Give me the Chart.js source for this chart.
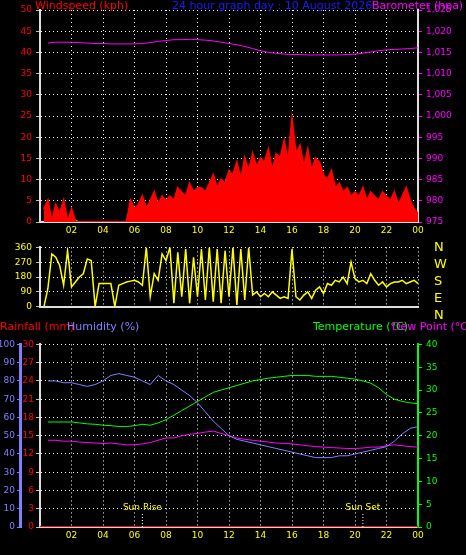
<!DOCTYPE html><html><head><meta charset="utf-8">
<script src="https://cdn.jsdelivr.net/npm/chart.js@4"></script>
<style>
body{margin:0;background:#000;width:466px;height:555px;overflow:hidden;position:relative;font-family:"DejaVu Sans",sans-serif}
.b{position:absolute}
.t{position:absolute;font-size:11px;white-space:nowrap;line-height:12px}
</style></head><body>
<div class="b" style="left:0;top:0"><canvas id="c1" width="466" height="245"></canvas></div>
<div class="b" style="left:0;top:238px"><canvas id="c2" width="466" height="78"></canvas></div>
<div class="b" style="left:0;top:335px"><canvas id="c3" width="466" height="220"></canvas></div>
<div class="t" style="left:35px;top:0;color:#f00">Windspeed (kph)</div>
<div class="t" style="left:172px;top:0;color:#1c1cff">24 hour graph day : 10 August 2026</div>
<div class="t" style="left:372px;top:0;color:#f0f">Barometer (hpa)</div>
<div class="t" style="left:0;top:321px;color:#f00">Rainfall (mm)</div>
<div class="t" style="left:67px;top:321px;color:#8080ff">Humidity (%)</div>
<div class="t" style="left:313px;top:321px;color:#0f0">Temperature (°C)</div>
<div class="t" style="left:392px;top:321px;color:#f0f">Dew Point (°C)</div>
<div class="t" style="left:434px;top:238px;color:#ff0;font-size:13px;line-height:17px">N<br>W<br>S<br>E<br>N</div>
<script>
const hourTicks=[2,4,6,8,10,12,14,16,18,20,22,24];
const gust=[3,5,0,4,2,5,0,3, 0,0,0,0,0,0,0,0, 0,0,0,0,0,0, 5,3, 4,6,3,5,7,4,6,5, 6,5,8,7,6,9,7,8, 8,7,9,11,8,10,9,12, 11,14,10,15,12,16,13,15, 14,17,12,16,15,19,14,24, 16,18,13,17,12,15,14,11, 10,12,8,9,7,8,6,7, 6,8,5,7,6,5,7,6, 5,7,4,6,8,5,3,2];
const avgWind=[1,1,0,1,0,0,0,0,0,0,0,2, 2,3,2,3,3,4,3,4,4,5,5,6, 6,7,7,8,8,9,9,9,8,8,7,7, 6,5,5,4,4,4,3,3,3,2,2,1];
const lullWind=[0,0,0,0,0,0,0,0,0,0,0,0, 0,1,0,1,1,2,1,2,2,3,2,3, 3,4,3,5,4,5,5,5,4,5,4,4, 3,3,2,3,2,2,1,2,1,1,0,0];
const baro=[1017.2,1017.4,1017.4,1017.4,1017.3,1017.2,1017.1,1017.1,1017.0,1017.0,1017.0,1017.0, 1017.1,1017.3,1017.6,1017.8,1018.0,1018.0,1018.1,1018.0,1017.9,1017.7,1017.4,1017.1, 1016.8,1016.4,1015.9,1015.4,1015.0,1014.8,1014.6,1014.5,1014.5,1014.4,1014.4,1014.4, 1014.4,1014.4,1014.5,1014.6,1014.8,1015.1,1015.4,1015.6,1015.7,1015.8,1015.9,1016.1];
const windDir=[0,110,320,300,250,130,340,120, 150,180,200,290,280,0,140,140, 140,140,0,130,140,150,155,160, 150,130,360,60,200,160,320,280, 360,20,330,60,350,20,300,60, 350,40,360,30,350,20,340,60, 360,10,350,40,360,70,90,60, 80,60,90,70,50,60,50,350, 60,40,70,90,50,100,120,80, 140,130,160,150,180,140,270,170, 150,160,140,200,160,130,150,120, 140,150,150,160,140,150,160,140];
const humidity=[80,80,79,79,78,77,78,80,83,84,83,82, 80,78,83,80,78,75,72,68,63,58,54,50, 48,47,46,45,44,43,42,41,40,39,38,38, 38,39,39,40,41,42,43,44,47,51,54,55];
const temperature=[23,23,23,23,22.8,22.6,22.5,22.3,22.2,22,22,22.2, 22.5,22.3,22.8,23.5,24.5,25.5,26.5,27.5,28.5,29.5,30,30.5, 31,31.5,32,32.3,32.6,32.8,33,33.2,33.2,33.2,33,33, 33,32.8,32.6,32.4,32,31.5,30.5,29,28,27.5,27.2,27];
const dewPoint=[19,19,18.8,18.8,18.6,18.5,18.4,18.3,18.4,18.2,18,18, 18.2,18.5,19,19.5,19.5,20,20.3,20.5,20.8,21,20.5,20, 19.5,19.2,19,18.8,18.6,18.4,18.3,18.2,18,17.8,17.6,17.5, 17.4,17.3,17.2,17.2,17.3,17.5,17.5,17.8,18,17.8,17.6,17.5];
const rainfall=[0,0];
const sunEvents=[{t:6.5,label:'Sun Rise'},{t:20.5,label:'Sun Set'}];
const q=a=>a.map((v,i)=>({x:0.25*(i+1),y:v}));
const h=a=>a.map((v,i)=>({x:0.5*(i+1),y:v}));
Chart.defaults.font.family='DejaVu Sans';Chart.defaults.font.size=9;Chart.defaults.animation=false;
const grid={color:'#fff',lineWidth:1,drawTicks:true,tickLength:4,tickColor:'#bbb'};
const border={color:'#ddd',width:2,dash:[1,3]};
function fitW(w){return s=>{s.width=w}}
function xAxis(show,hgt){return {type:'linear',min:0,max:24,afterBuildTicks:s=>{s.ticks=hourTicks.map(v=>({value:v}))},
 ticks:{display:show,color:'#ff0',padding:3,callback:v=>String(v%24).padStart(2,'0')},grid:Object.assign({},grid,{drawTicks:false}),border,afterFit:s=>{s.height=hgt}}}
const L=(data,c,extra)=>Object.assign({data,borderColor:c,backgroundColor:c,borderWidth:1,pointRadius:0,tension:0},extra||{});
const common={responsive:false,maintainAspectRatio:false,plugins:{legend:{display:false},tooltip:{enabled:false}}};
new Chart(c1,{type:'line',data:{datasets:[
 L(h(baro),'#f0f',{yAxisID:'yb'}),
 L(q(gust),'#f00',{fill:'origin',borderWidth:2}),
 L(h(avgWind),'#0f0',{}),
 L(h(lullWind),'#eee',{fill:'origin',backgroundColor:'#dfd'})]},
 options:Object.assign({},common,{layout:{padding:{top:10,right:10}},
 scales:{x:xAxis(true,23),
 y:{min:0,max:50,ticks:{stepSize:5,color:'#f00',padding:4},grid,border,afterFit:fitW(40)},
 yb:{position:'right',min:975,max:1025,ticks:{stepSize:5,color:'#f0f',padding:4},grid:{drawOnChartArea:false,tickLength:4,tickColor:'#f0f'},border:{color:'#ddd',width:2},afterFit:fitW(38)}}})});
new Chart(c2,{type:'line',data:{datasets:[L(q(windDir),'#ff0',{borderWidth:1.5})]},
 options:Object.assign({},common,{layout:{padding:{top:5,right:48,bottom:5}},
 scales:{x:xAxis(false,0),y:{min:0,max:360,ticks:{stepSize:90,color:'#ff0',padding:4},grid,border,afterFit:fitW(40)}}})});
const sunPlugin={id:'sun',afterDatasetsDraw(ch){const x=ch.scales.x,y=ch.scales.yt,ctx=ch.ctx;ctx.save();
 sunEvents.forEach(e=>{const px=x.getPixelForValue(e.t);ctx.strokeStyle='#fff';ctx.setLineDash([1,2]);ctx.beginPath();ctx.moveTo(px,y.getPixelForValue(0));ctx.lineTo(px,y.getPixelForValue(3));ctx.stroke();
 ctx.fillStyle='#ff0';ctx.font='9px DejaVu Sans';ctx.textAlign='center';ctx.fillText(e.label,px,y.getPixelForValue(3.7));});ctx.restore();}};
new Chart(c3,{type:'line',plugins:[sunPlugin],data:{datasets:[
 L(h(humidity),'#8080ff',{yAxisID:'yh'}),
 L(h(temperature),'#0f0',{yAxisID:'yt'}),
 L(h(dewPoint),'#f0f',{yAxisID:'yt'}),
 L([{x:0,y:rainfall[0]},{x:24,y:rainfall[1]}],'#f00',{yAxisID:'yr',borderWidth:2})]},
 options:Object.assign({},common,{layout:{padding:{top:5,right:10}},
 scales:{x:xAxis(true,28),
 yr:{position:'left',min:0,max:30,ticks:{stepSize:3,color:'#f00',padding:2},grid,border,afterFit:fitW(20)},
 yh:{position:'left',min:0,max:100,ticks:{stepSize:10,color:'#8080ff',padding:2},grid:{drawOnChartArea:false,tickLength:3,tickColor:'#8080ff'},border:{color:'#8080ff',width:3},afterFit:fitW(20)},
 yt:{position:'right',min:0,max:40,ticks:{stepSize:5,color:'#0f0',padding:4},grid:{drawOnChartArea:false,tickLength:4,tickColor:'#0f0'},border:{color:'#0f0',width:2},afterFit:fitW(38)}}})});
</script></body></html>
